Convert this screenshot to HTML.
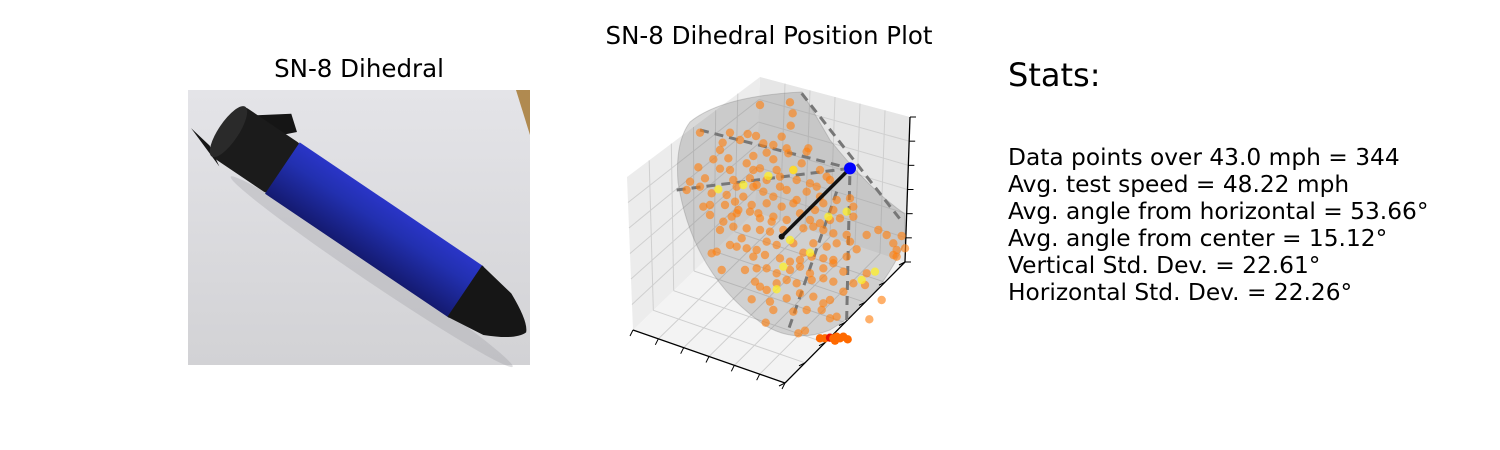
<!DOCTYPE html>
<html><head><meta charset="utf-8"><style>
body{margin:0;background:#fff;width:1500px;height:450px;overflow:hidden;font-family:"DejaVu Sans","Liberation Sans",sans-serif;}
svg{display:block}
</style></head><body>
<svg width="1500" height="450" xmlns="http://www.w3.org/2000/svg">
<rect width="1500" height="450" fill="#fff"/>
<text x="769" y="44" text-anchor="middle" font-size="24.5" fill="#000">SN-8 Dihedral Position Plot</text>
<text x="359" y="77" text-anchor="middle" font-size="24.5" fill="#000">SN-8 Dihedral</text>

<g>
<defs>
<linearGradient id="bg" x1="0" y1="0" x2="0" y2="1"><stop offset="0" stop-color="#e4e4e8"/><stop offset="1" stop-color="#d2d2d5"/></linearGradient>
<linearGradient id="bl" x1="0" y1="0" x2="0" y2="1"><stop offset="0" stop-color="#2a35c8"/><stop offset="0.35" stop-color="#2230b0"/><stop offset="1" stop-color="#141a70"/></linearGradient>
</defs>
<rect x="188" y="90" width="342" height="275" fill="url(#bg)"/>
<polygon points="516,90 530,90 530,135" fill="#b08a50"/>
<g transform="translate(226,130) rotate(34)">
<ellipse cx="200" cy="36" rx="170" ry="10" fill="#a0a0a6" opacity="0.35"/>
<polygon points="10,-24 45,-50 60,-38 40,-18" fill="#151515"/>
<polygon points="-5,22 -30,18 15,34" fill="#151515"/>
<rect x="0" y="-30" width="72" height="60" rx="6" fill="#1b1b1b"/>
<ellipse cx="3" cy="0" rx="10" ry="30" fill="#2a2a2a"/>
<rect x="68" y="-31" width="222" height="62" fill="url(#bl)"/>
<path d="M288,-31 L328,-24 Q358,-10 362,0 Q358,12 328,26 L288,31 Z" fill="#161616"/>
</g>
</g>

<g id="plot3d">
<polygon points="627,177 760,77 755,212 633,330" fill="#ececec"/>
<polygon points="760,77 910,117 905,262 755,212" fill="#e6e6e6"/>
<polygon points="633,330 755,212 905,262 785,383" fill="#f3f3f3"/>
<g id="grid" stroke="#cfcfcf" stroke-width="1" fill="none"></g>
<path d="M690,122 Q722,96 802,92 L830,140 Q870,190 905,214 L905,242 Q880,300 830,330 Q792,345 760,322 Q692,272 678,182 Q675,142 690,122 Z" fill="rgba(120,120,120,0.28)" stroke="rgba(120,120,120,0.3)"/>
<g stroke="#000" stroke-width="1.3">
<line x1="633" y1="330" x2="785" y2="383"/><line x1="785" y1="383" x2="905" y2="262"/><line x1="905" y1="262" x2="910" y2="117"/>
</g>
<g id="ticks" stroke="#000" stroke-width="1"></g>
<g id="dash" stroke="#777" stroke-width="3" stroke-dasharray="9,6" fill="none"></g>
<g id="pts"></g>
</g>

<g font-size="23.3" fill="#000">
<text x="1008" y="86" font-size="32">Stats:</text>
<text x="1008" y="165">Data points over 43.0 mph = 344</text>
<text x="1008" y="192">Avg. test speed = 48.22 mph</text>
<text x="1008" y="219">Avg. angle from horizontal = 53.66°</text>
<text x="1008" y="246">Avg. angle from center = 15.12°</text>
<text x="1008" y="273">Vertical Std. Dev. = 22.61°</text>
<text x="1008" y="300">Horizontal Std. Dev. = 22.26°</text>
</g>
</svg>
<script>
// projected-plane data (abstract units 0..900 x 0..960)
const orangeU=[420,510,518,512,240,330,383,408,430,485,308,360,500,560,565,280,325,400,440,460,505,235,300,330,380,400,420,470,520,600,620,210,255,275,340,350,390,410,440,480,530,570,630,200,240,320,370,400,430,460,500,560,600,650,690,270,315,345,395,440,485,520,610,640,700,270,310,335,350,390,420,460,500,540,570,600,630,660,700,300,340,380,420,450,490,550,580,610,640,680,740,775,800,845,330,350,380,410,440,470,520,550,580,620,650,690,710,820,830,855,275,290,400,435,480,510,540,575,610,640,680,820,830,305,375,410,440,470,510,540,570,610,640,670,740,405,440,470,500,530,575,610,640,700,735,420,395,450,500,540,580,610,630,670,460,520,560,605,630,650,437,535,555,785,748,300,460,545,590,355,250,480,415,585,530,455,365];
const orangeV=[105,97,130,167,188,188,192,198,220,200,218,210,235,245,235,268,265,258,248,268,250,292,296,300,280,300,295,300,300,300,320,335,325,370,330,350,325,345,330,320,330,340,330,360,350,375,380,350,365,380,360,365,380,390,385,405,405,395,405,400,410,400,400,420,410,435,455,440,430,425,445,440,450,430,450,460,450,445,440,480,470,475,480,485,480,475,470,480,490,495,495,480,495,498,525,530,535,540,515,525,520,548,520,530,520,515,538,520,540,535,550,545,560,555,565,575,570,560,565,570,560,555,560,600,600,595,595,610,600,590,610,595,580,605,610,635,660,640,630,640,630,625,635,640,645,650,688,695,685,670,680,700,690,665,720,725,720,720,745,740,758,790,782,690,748,240,225,280,350,420,410,350,430,420,390,455,505];
const yellowU=[295,370,445,520,625,680,570,490,470,725,765,510];
const yellowV=[358,345,318,300,440,425,548,590,658,630,605,510];
const clusterU=[600,615,630,640,650,660,670,683,645];
const clusterV=[805,805,803,805,800,805,800,808,812];
const originU=[690], originV=[295];
const arrowEndU=[485], arrowEndV=[500];
const X=v=>620+v/3, Y=v=>70+v/3;
const NS="http://www.w3.org/2000/svg";
function mk(tag,attrs,parent){const e=document.createElementNS(NS,tag);for(const k in attrs)e.setAttribute(k,attrs[k]);parent.appendChild(e);return e;}
const lerp=(a,b,t)=>[a[0]+(b[0]-a[0])*t,a[1]+(b[1]-a[1])*t];
const grid=document.getElementById('grid');
const panes=[[[627,177],[760,77],[755,212],[633,330]],[[760,77],[910,117],[905,262],[755,212]],[[633,330],[755,212],[905,262],[785,383]]];
panes.forEach(p=>{for(let i=1;i<6;i++){const t=i/6;let a=lerp(p[0],p[1],t),b=lerp(p[3],p[2],t);
const l=mk('line',{x1:a[0],y1:a[1],x2:b[0],y2:b[1]},grid);


a=lerp(p[0],p[3],t);b=lerp(p[1],p[2],t);
const l2=mk('line',{x1:a[0],y1:a[1],x2:b[0],y2:b[1]},grid);

}});
const ticks=document.getElementById('ticks');
[[[633,330],[785,383],[-3,6]],[[785,383],[905,262],[-6,3]],[[905,262],[910,117],[6,0]]].forEach(e=>{for(let i=0;i<=6;i++){const a=lerp(e[0],e[1],i/6);
const t=mk('line',{x1:a[0],y1:a[1],x2:a[0]+e[2][0],y2:a[1]+e[2][1]},ticks);

}});
const dash=document.getElementById('dash');
const ox=X(originU[0]),oy=Y(originV[0]);
[[240,180],[170,360],[680,750]].forEach(q=>{const l=mk('line',{x1:X(q[0]),y1:Y(q[1]),x2:ox,y2:oy},dash);

});
[[[545,70],[850,460]],[[650,365],[505,780]]].forEach(q=>{const l=mk('line',{x1:X(q[0][0]),y1:Y(q[0][1]),x2:X(q[1][0]),y2:Y(q[1][1])},dash);

});
const pts=document.getElementById('pts');
orangeU.forEach((u,i)=>{const c=mk('circle',{cx:X(u),cy:Y(orangeV[i]),r:4.2,fill:'rgba(255,127,14,0.62)'},pts);

});
yellowU.forEach((u,i)=>{const c=mk('circle',{cx:X(u),cy:Y(yellowV[i]),r:4.2,fill:'rgba(255,240,40,0.75)'},pts);

});
clusterU.forEach((u,i)=>{const c=mk('circle',{cx:X(u),cy:Y(clusterV[i]),r:4.2,fill:i==2?'#e81000':'#ff6a00'},pts);

});
const ar=mk('line',{x1:ox,y1:oy,x2:X(arrowEndU[0]),y2:Y(arrowEndV[0]),stroke:'#111','stroke-width':3.5},pts);


const ah=mk('circle',{cx:X(arrowEndU[0]),cy:Y(arrowEndV[0]),r:3,fill:'#111'},pts);


const o=mk('circle',{cx:ox,cy:oy,r:6,fill:'#0000ff'},pts);


</script>
</body></html>
